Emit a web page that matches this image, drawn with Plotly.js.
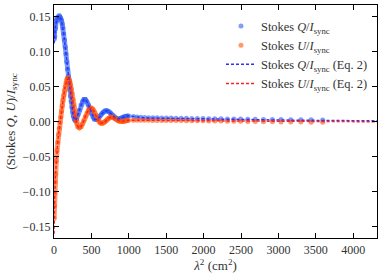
<!DOCTYPE html>
<html>
<head>
<meta charset="utf-8">
<script src="https://cdn.plot.ly/plotly-3.0.1.min.js"></script>
<style>html,body{margin:0;padding:0;background:#fff;}#chart{width:382px;height:273px;}</style>
</head>
<body>
<div id="chart"></div>
<script>
// λ² sample positions (cm²) of the observed points
const lam2Obs = [2,5,10,15,20,30,40,50,60,70,80,90,100,110,120,130,140,150,160,170,180,190,200,210,220,230,240,250,260,270,280,290,300,
  320,340,360,380,400,420,440,460,480,500,520,540,560,580,600,620,640,660,680,700,720,740,760,780,800,820,840,860,880,900,920,940,960,980,1000,
  1062,1110,1160,1212,1266,1322,1380,1440,1502,1566,1632,1700,1770,1842,1916,1992,2070,2150,2233,2318,2405,2495,2590,2690,2800,2920,3035,3165,3300,3437,3592];
const qObs = [0.118,0.128,0.122,0.140,0.133,0.147,0.144,0.150,0.149,0.152,0.150,0.148,0.145,0.140,0.134,0.126,0.117,0.107,0.097,0.086,0.075,0.065,0.055,0.046,0.037,0.029,0.021,0.014,0.008,0.004,0.002,0.002,0.004,
  0.010,0.017,0.024,0.029,0.032,0.032,0.029,0.024,0.018,0.012,0.007,0.004,0.0035,0.004,0.006,0.009,0.012,0.014,0.0155,0.016,0.0155,0.014,0.012,0.0095,0.007,0.0055,0.0045,0.004,0.0045,0.0055,0.0065,0.0075,0.008,0.0085,0.0085,
  0.0078,0.0070,0.0064,0.0061,0.0059,0.0058,0.0057,0.0056,0.0055,0.0054,0.0053,0.0052,0.0051,0.0049,0.0048,0.0047,0.0046,0.0044,0.0043,0.0042,0.0040,0.0039,0.0038,0.0037,0.0035,0.0034,0.0032,0.0031,0.0030,0.0029,0.0028];
const uObs = [-0.138,-0.120,-0.102,-0.086,-0.075,-0.056,-0.041,-0.029,-0.018,-0.009,-0.001,0.007,0.015,0.023,0.031,0.038,0.045,0.051,0.056,0.060,0.062,0.0625,0.061,0.058,0.053,0.047,0.040,0.032,0.024,0.016,0.009,0.003,-0.002,
  -0.007,-0.0085,-0.007,-0.003,0.002,0.008,0.013,0.017,0.0195,0.0196,0.018,0.014,0.009,0.004,0.0005,-0.0015,-0.002,-0.0015,0.000,0.002,0.0045,0.006,0.007,0.0068,0.006,0.0045,0.003,0.0015,0.0008,0.0005,0.0006,0.001,0.0015,0.002,0.0023,
  0.0024,0.0024,0.0023,0.0022,0.0022,0.0021,0.0021,0.0020,0.0020,0.0019,0.0018,0.0018,0.0017,0.0016,0.0015,0.0014,0.0013,0.0012,0.0011,0.0010,0.0008,0.0007,0.0005,0.0004,0.0002,0.0000,-0.0001,-0.0002,-0.0003,-0.0004,-0.0005];

// Eq. 2 model curves
const lam2Eq2 = [0,5,10,15,20,30,40,50,60,70,80,90,100,110,120,130,140,150,160,170,180,190,200,210,220,230,240,250,260,270,280,290,300,
  320,340,360,380,400,420,440,460,480,500,520,540,560,580,600,620,640,660,680,700,720,740,760,780,800,820,840,860,880,900,920,940,960,980,1000,
  1100,1200,1400,1700,2000,2500,3000,3600,4400];
const qEq2 = [0.112,0.120,0.127,0.132,0.136,0.142,0.146,0.149,0.1505,0.151,0.150,0.148,0.145,0.140,0.134,0.126,0.117,0.107,0.097,0.086,0.075,0.065,0.055,0.046,0.037,0.029,0.021,0.014,0.008,0.004,0.002,0.002,0.004,
  0.010,0.017,0.024,0.029,0.032,0.032,0.029,0.024,0.018,0.012,0.007,0.004,0.0035,0.004,0.006,0.009,0.012,0.014,0.0155,0.016,0.0155,0.014,0.012,0.0095,0.007,0.0055,0.0045,0.004,0.0045,0.0055,0.0065,0.0075,0.008,0.0085,0.0085,
  0.0068,0.0058,0.0053,0.0047,0.0041,0.0033,0.0026,0.0020,0.0014];
const uEq2 = [-0.160,-0.118,-0.100,-0.086,-0.075,-0.056,-0.041,-0.029,-0.018,-0.009,-0.001,0.007,0.015,0.023,0.031,0.038,0.045,0.051,0.056,0.060,0.062,0.0625,0.061,0.058,0.053,0.047,0.040,0.032,0.024,0.016,0.009,0.003,-0.002,
  -0.007,-0.0085,-0.007,-0.003,0.002,0.008,0.013,0.017,0.0195,0.0196,0.018,0.014,0.009,0.004,0.0005,-0.0015,-0.002,-0.0015,0.000,0.002,0.0045,0.006,0.007,0.0068,0.006,0.0045,0.003,0.0015,0.0008,0.0005,0.0006,0.001,0.0015,0.002,0.0023,
  0.0024,0.0022,0.0021,0.0019,0.0016,0.0012,0.0008,0.0005,0.0001];

const xTicks = [0,500,1000,1500,2000,2500,3000,3500,4000];
const yTicks = [-0.15,-0.10,-0.05,0.00,0.05,0.10,0.15];
const seriesNames = ['Stokes <i>Q</i>/<i>I</i><sub>sync</sub>','Stokes <i>U</i>/<i>I</i><sub>sync</sub>',
  'Stokes <i>Q</i>/<i>I</i><sub>sync</sub> (Eq. 2)','Stokes <i>U</i>/<i>I</i><sub>sync</sub> (Eq. 2)'];

const blueM = 'rgba(45,95,240,0.6)';
const orangeM = 'rgba(255,85,10,0.6)';
const nDense = lam2Obs.findIndex(v => v > 1000);

const traces = [
  {x: lam2Obs.slice(0,nDense), y: qObs.slice(0,nDense), mode:'lines', line:{color:blueM, width:5}, showlegend:false, hoverinfo:'skip'},
  {x: lam2Obs, y: qObs, mode:'markers', name: seriesNames[0], marker:{color:blueM, size:5}},
  {x: lam2Obs.slice(0,nDense), y: uObs.slice(0,nDense), mode:'lines', line:{color:orangeM, width:5}, showlegend:false, hoverinfo:'skip'},
  {x: lam2Obs, y: uObs, mode:'markers', name: seriesNames[1], marker:{color:orangeM, size:5}},
  {x: lam2Eq2, y: qEq2, mode:'lines', name: seriesNames[2], line:{color:'#3030ff', width:1.5, dash:'3px,2px'}},
  {x: lam2Eq2, y: uEq2, mode:'lines', name: seriesNames[3], line:{color:'#ff2020', width:1.5, dash:'3px,2px'}}
];

const font = {family:'"Liberation Serif", "DejaVu Serif", serif', size:12, color:'#333'};
const titleFont = {family:'"Liberation Serif", "DejaVu Serif", serif', size:13, color:'#333'};
const legendFont = {family:'"Liberation Serif", "DejaVu Serif", serif', size:12.4, color:'#333'};
const layout = {
  width:382, height:273,
  margin:{l:54, r:5, t:5, b:35},
  paper_bgcolor:'#fff', plot_bgcolor:'#fff',
  font: font,
  showlegend:true,
  legend:{x:0.517, y:0.972, xanchor:'left', yanchor:'top', bgcolor:'rgba(0,0,0,0)', font:legendFont, tracegroupgap:0},
  xaxis:{range:[0,4318], tickvals:xTicks, ticktext:xTicks.map(String), ticks:'inside', ticklen:5, tickcolor:'#000',
    showline:true, linecolor:'#000', linewidth:1.2, mirror:'ticks', showgrid:false, zeroline:false,
    title:{text:'<i>λ</i><sup>2</sup> (cm<sup>2</sup>)', font:titleFont, standoff:0}},
  yaxis:{range:[-0.166,0.167], tickvals:yTicks, ticktext:yTicks.map(v => (v<0?'\u2212':'') + Math.abs(v).toFixed(2)), ticks:'inside', ticklen:5, tickcolor:'#000',
    showline:true, linecolor:'#000', linewidth:1.2, mirror:'ticks', showgrid:false, zeroline:false,
    title:{text:'(Stokes <i>Q</i>, <i>U</i>)/<i>I</i><sub>sync</sub>', font:titleFont, standoff:4}}
};
Plotly.newPlot('chart', traces, layout, {displayModeBar:false, staticPlot:true});
</script>
</body>
</html>
